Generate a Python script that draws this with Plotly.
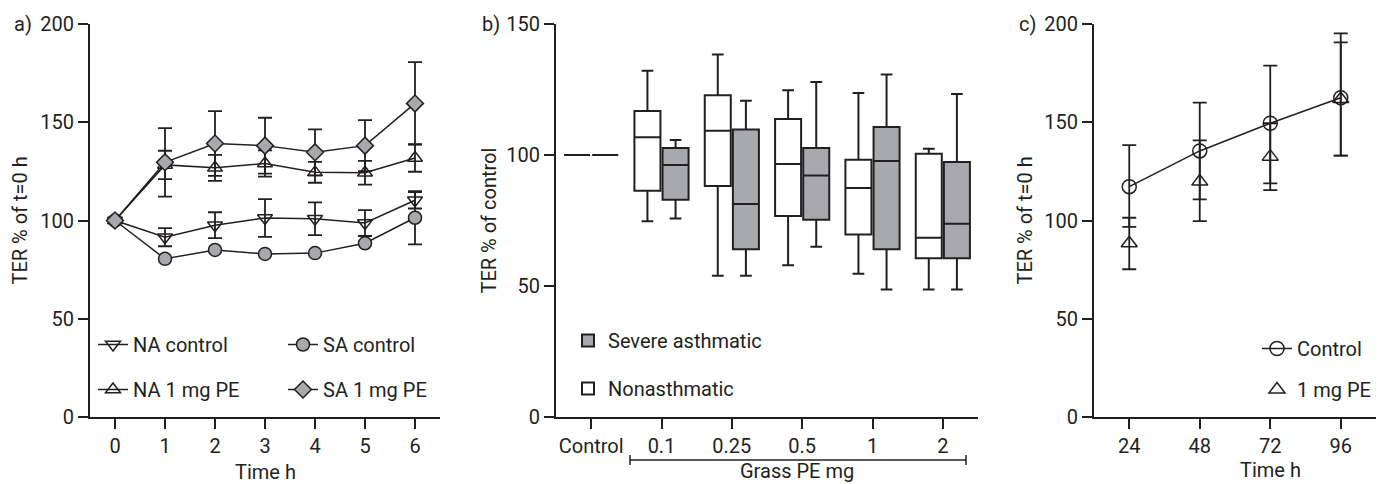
import plotly.graph_objects as go

# ---------------- data ----------------
# panel a
time_a = [0, 1, 2, 3, 4, 5, 6]
na_ctrl = [100, 91.5, 97.6, 101.3, 100.9, 98.7, 110.3]
na_ctrl_err = [None, 4.6, 6.6, 9.6, 8.3, 6.6, 4.2]
sa_ctrl = [100, 80.5, 85.0, 83.0, 83.4, 88.4, 101.4]
sa_ctrl_err = [None, None, None, None, None, None, 13.5]
na_pe = [100, 128.3, 126.8, 129.0, 124.5, 124.3, 131.8]
na_pe_err = [None, 7.2, 6.6, 6.7, 5.3, 6.0, 7.0]
sa_pe = [100, 129.6, 139.2, 138.1, 134.7, 138.1, 159.6]
sa_pe_err = [None, 17.4, 16.5, 14.2, 11.7, 13.0, 21.0]
ticks_a_x = [0, 1, 2, 3, 4, 5, 6]
ticks_a_y = [0, 50, 100, 150, 200]

# panel b
dose_cats = ["Control", "0.1", "0.25", "0.5", "1", "2"]
na_lower = [100, 74.7, 53.9, 57.9, 54.7, 48.7]
na_q1 = [100, 86.4, 88.2, 76.7, 69.7, 60.6]
na_median = [100, 106.8, 109.3, 96.6, 87.4, 68.4]
na_q3 = [100, 116.8, 122.8, 113.7, 98.2, 100.5]
na_upper = [100, 132.2, 138.4, 124.7, 123.7, 102.4]
sa_lower = [100, 75.8, 53.9, 65.0, 48.7, 48.7]
sa_q1 = [100, 82.9, 64.0, 75.3, 64.0, 60.6]
sa_median = [100, 96.2, 81.3, 92.2, 97.7, 73.8]
sa_q3 = [100, 102.7, 109.7, 102.7, 110.7, 97.3]
sa_upper = [100, 105.7, 120.7, 127.9, 130.7, 123.3]
ticks_b_y = [0, 50, 100, 150]

# panel c
time_c = [24, 48, 72, 96]
ctrl_c = [117.2, 135.4, 149.5, 162.5]
ctrl_c_err_plus = [21.2, 24.6, 29.3, 32.7]
ctrl_c_err_minus = [20.4, 24.6, 30.6, 29.5]
pe_c = [88.4, 119.8, 132.5, 161.8]
pe_c_err_plus = [13.0, 21.0, 17.0, 28.8]
pe_c_err_minus = [13.2, 20.1, 17.0, 28.8]
ticks_c_x = [24, 48, 72, 96]
ticks_c_y = [0, 50, 100, 150, 200]

# ---------------- style ----------------
W, H = 1388, 484
TOP, BOT = 24, 417
INK = "#231f20"
GREY = "#a7a9ac"
FONT = "Roboto"

def px(x):
    return x / W

def py(y):
    return (BOT - y) / (BOT - TOP)

fig = go.Figure()

def err(vals, width=7):
    return dict(type="data", array=vals, visible=True, color=INK, thickness=1.8, width=width)

mk_line = dict(color=INK, width=1.5)

# panel a traces
fig.add_trace(go.Scatter(x=time_a, y=na_ctrl, name="NA control", mode="lines+markers",
                         line=dict(color=INK, width=1.5),
                         marker=dict(symbol="triangle-down-open", size=13, color=INK, line=dict(width=1.5)),
                         error_y=err(na_ctrl_err), xaxis="x", yaxis="y",
                         legend="legend", legendgroup="a1"))
fig.add_trace(go.Scatter(x=time_a, y=na_pe, name="NA 1 mg PE", mode="lines+markers",
                         line=dict(color=INK, width=1.5),
                         marker=dict(symbol="triangle-up-open", size=13, color=INK, line=dict(width=1.5)),
                         error_y=err(na_pe_err), xaxis="x", yaxis="y",
                         legend="legend", legendgroup="a2"))
fig.add_trace(go.Scatter(x=time_a, y=sa_ctrl, name="SA control", mode="lines+markers",
                         line=dict(color=INK, width=1.5),
                         marker=dict(symbol="circle", size=13, color=GREY, line=mk_line),
                         error_y=err(sa_ctrl_err), xaxis="x", yaxis="y",
                         legend="legend2", legendgroup="a3"))
fig.add_trace(go.Scatter(x=time_a, y=sa_pe, name="SA 1 mg PE", mode="lines+markers",
                         line=dict(color=INK, width=1.5),
                         marker=dict(symbol="diamond", size=13, color=GREY, line=mk_line),
                         error_y=err(sa_pe_err), xaxis="x", yaxis="y",
                         legend="legend2", legendgroup="a4"))

# panel b traces
fig.add_trace(go.Box(x=dose_cats, q1=na_q1, median=na_median, q3=na_q3,
                     lowerfence=na_lower, upperfence=na_upper, name="Nonasthmatic",
                     fillcolor="white", line=dict(color=INK, width=2), whiskerwidth=0.45,
                     boxpoints=False, xaxis="x2", yaxis="y2", legend="legend3",
                     legendgroup="b1", legendrank=2))
fig.add_trace(go.Box(x=dose_cats, q1=sa_q1, median=sa_median, q3=sa_q3,
                     lowerfence=sa_lower, upperfence=sa_upper, name="Severe asthmatic",
                     fillcolor=GREY, line=dict(color=INK, width=2), whiskerwidth=0.45,
                     boxpoints=False, xaxis="x2", yaxis="y2", legend="legend3",
                     legendgroup="b2", legendrank=1))

# panel c traces
fig.add_trace(go.Scatter(x=time_c, y=ctrl_c, name="Control", mode="lines+markers",
                         line=dict(color=INK, width=1.5),
                         marker=dict(symbol="circle-open", size=14, color=INK, line=dict(width=1.5)),
                         error_y=dict(type="data", array=ctrl_c_err_plus, arrayminus=ctrl_c_err_minus,
                                      symmetric=False, color=INK, thickness=1.8, width=7),
                         xaxis="x3", yaxis="y3", legend="legend4", legendgroup="c1"))
fig.add_trace(go.Scatter(x=time_c, y=pe_c, name="1 mg PE", mode="markers",
                         marker=dict(symbol="triangle-up-open", size=14, color=INK, line=dict(width=1.5)),
                         error_y=dict(type="data", array=pe_c_err_plus, arrayminus=pe_c_err_minus,
                                      symmetric=False, color=INK, thickness=1.8, width=7),
                         xaxis="x3", yaxis="y3", legend="legend4", legendgroup="c2"))

axis_common = dict(showline=True, linecolor=INK, linewidth=2, ticks="outside", ticklen=10,
                   tickwidth=2, tickcolor=INK, showgrid=False, zeroline=False,
                   tickfont=dict(family=FONT, size=20, color=INK), automargin=False)

legend_common = dict(font=dict(family=FONT, size=20, color=INK), bgcolor="rgba(0,0,0,0)",
                     xanchor="left", yanchor="top", orientation="v", itemclick=False)

fig.update_layout(
    width=W, height=H,
    margin=dict(l=0, r=0, t=TOP, b=H - BOT, pad=0),
    paper_bgcolor="white", plot_bgcolor="white",
    font=dict(family=FONT, size=20, color=INK),
    boxmode="group", boxgap=0.2, boxgroupgap=0.075,
    xaxis=dict(domain=[px(90), px(440)], range=[-0.5, 6.5], tickvals=ticks_a_x, anchor="y", **axis_common),
    yaxis=dict(domain=[0, 1], range=[0, 200], tickvals=ticks_a_y, anchor="x", **axis_common),
    xaxis2=dict(domain=[px(556), px(978)], range=[-0.5, 5.5], type="category",
                categoryorder="array", categoryarray=dose_cats, anchor="y2", **axis_common),
    yaxis2=dict(domain=[0, 1], range=[0, 150], tickvals=ticks_b_y, anchor="x2", **axis_common),
    xaxis3=dict(domain=[px(1094), px(1376)], range=[12, 108], tickvals=ticks_c_x, anchor="y3", **axis_common),
    yaxis3=dict(domain=[0, 1], range=[0, 200], tickvals=ticks_c_y, anchor="x3", **axis_common),
    legend=dict(x=px(93), y=py(325), tracegroupgap=16, traceorder="grouped", **legend_common),
    legend2=dict(x=px(283), y=py(325), tracegroupgap=16, traceorder="grouped", **legend_common),
    legend3=dict(x=px(568), y=py(321), tracegroupgap=19, traceorder="grouped", **legend_common),
    legend4=dict(x=px(1257), y=py(329), tracegroupgap=12, traceorder="grouped", **legend_common),
    showlegend=True,
)

ann_font = dict(family=FONT, size=20, color=INK)
annotations = [
    dict(text="a)", x=px(12), y=1, xanchor="left", yanchor="middle"),
    dict(text="b)", x=px(480), y=1, xanchor="left", yanchor="middle"),
    dict(text="c)", x=px(1017), y=1, xanchor="left", yanchor="middle"),
    dict(text="TER % of t=0 h", x=px(19), y=0.5, textangle=-90, xanchor="center", yanchor="middle"),
    dict(text="TER % of control", x=px(488), y=0.5, textangle=-90, xanchor="center", yanchor="middle"),
    dict(text="TER % of t=0 h", x=px(1024), y=0.5, textangle=-90, xanchor="center", yanchor="middle"),
    dict(text="Time h", x=px(265), y=py(472), xanchor="center", yanchor="middle"),
    dict(text="Grass PE mg", x=px(797), y=py(471), xanchor="center", yanchor="middle"),
    dict(text="Time h", x=px(1270), y=py(470), xanchor="center", yanchor="middle"),
]
for a in annotations:
    fig.add_annotation(xref="paper", yref="paper", showarrow=False, font=ann_font, **a)

# bracket under panel b categories
br = dict(color=INK, width=1.5)
fig.add_shape(type="line", xref="paper", yref="paper", x0=px(630), x1=px(966), y0=py(460), y1=py(460), line=br)
fig.add_shape(type="line", xref="paper", yref="paper", x0=px(630), x1=px(630), y0=py(455), y1=py(465), line=br)
fig.add_shape(type="line", xref="paper", yref="paper", x0=px(966), x1=px(966), y0=py(455), y1=py(465), line=br)

fig.write_html("out.html")
